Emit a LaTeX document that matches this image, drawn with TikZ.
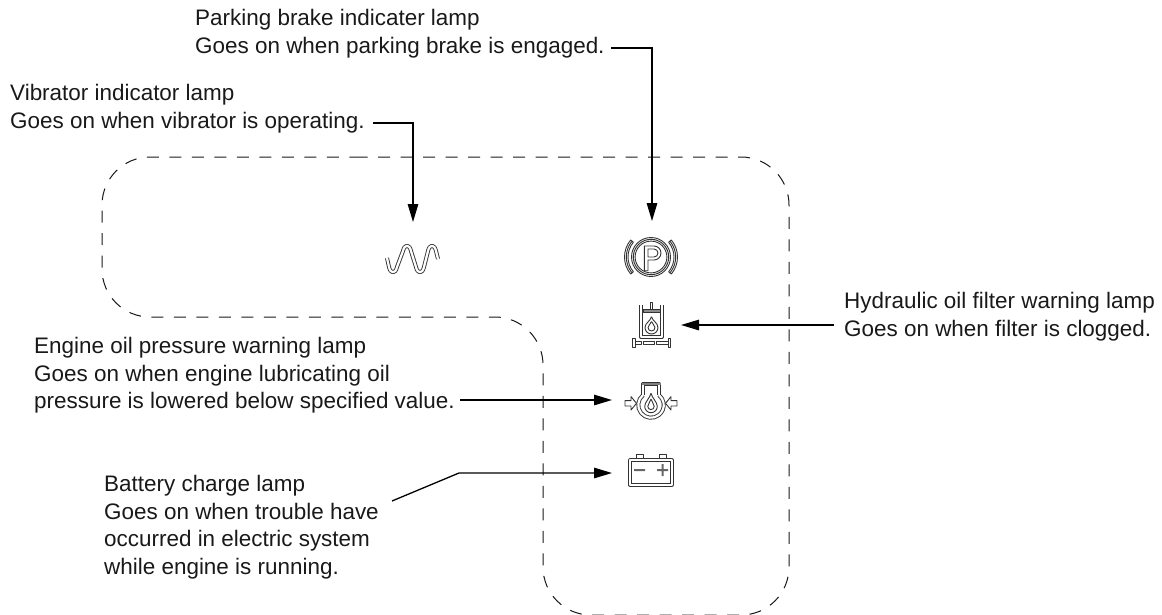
\documentclass[tikz,border=0pt]{standalone}
\usepackage{fontspec}
\setmainfont{Liberation Sans}
\usetikzlibrary{arrows.meta}
\tikzset{
  lab/.style={inner sep=0pt,align=left,font=\fontsize{22.45}{27.6}\selectfont,text=black!90},
  lead/.style={line width=1.3pt,draw=black,-{Triangle[length=18pt,width=10.5pt]}},
  zone/.style={line width=1pt,draw=black!90,dash pattern=on 12pt off 10.5pt,rounded corners=48pt},
  iconline/.style={line width=.9pt,draw=black!80,double=white,double distance=2.2pt,line join=round},
  thinl/.style={line width=.9pt,draw=black!80,line join=round},
  icon/.style={inner sep=0pt,minimum size=1pt},
  up/.style={x=1pt,y=1pt}
}
\begin{document}
\begin{tikzpicture}[x=1pt,y=-1pt]
\useasboundingbox (0,0) rectangle (1162,614);
\begin{scope}
\clip (0,0) rectangle (1162,614);
\draw[zone] (307.7,157) -- (789,157) -- (789,615) -- (543,615) -- (543,317) -- (102,317) -- (102,157) -- cycle;
\end{scope}
\node[lab,anchor=north west] (tbrake) at (195,9) {Parking brake indicater lamp\\Goes on when parking brake is engaged.};
\node[lab,anchor=north west] (tvib) at (10,84) {Vibrator indicator lamp\\Goes on when vibrator is operating.};
\node[lab,anchor=north west] (tfilter) at (844,292) {Hydraulic oil filter warning lamp\\Goes on when filter is clogged.};
\node[lab,anchor=north west] (toil) at (34,337) {Engine oil pressure warning lamp\\Goes on when engine lubricating oil\\pressure is lowered below specified value.};
\node[lab,anchor=north west] (tbat) at (104,475) {Battery charge lamp\\Goes on when trouble have\\occurred in electric system\\while engine is running.};
\node[icon] (ibrake) at (651,257) {};
\node[icon] (ivib) at (413,259) {};
\node[icon] (ifilter) at (651.5,329) {};
\node[icon] (ioil) at (651,405) {};
\node[icon] (ibat) at (651,472) {};
\coordinate (kbrake) at (652,48);
\coordinate (kvib) at (413,123);
\coordinate (bend) at (459,473);
\coordinate (sbat) at (392,501);
\coordinate (sbrake) at (611,48);
\coordinate (svib) at (373,123);
\coordinate (sfilter) at (834,325);
\coordinate (soil) at (460,400);
\coordinate (ebrake) at (652,221);
\coordinate (evib) at (413,222);
\coordinate (efilter) at (681,325);
\coordinate (eoil) at (612,400);
\coordinate (ebat) at (612,473);
\draw[lead] (sbrake) -- (kbrake) -- (ebrake);
\draw[lead] (svib) -- (kvib) -- (evib);
\draw[lead] (sfilter) -- (efilter);
\draw[lead] (soil) -- (eoil);
\draw[lead] (sbat) -- (bend) -- (ebat);
% parking brake
\begin{scope}[shift={(ibrake)},up]
\draw[thinl] (0,0) circle[radius=19.5] circle[radius=17.7] circle[radius=15.9];
\draw[thinl] (-6.7,-13.7) -- (-6.7,11) -- (3,11) arc[start angle=90,end angle=-90,radius=7] -- (-3,-3) -- (-3,-13.7) -- cycle;
\draw[thinl] (-3,8) -- (3,8) arc[start angle=90,end angle=-90,radius=4] -- (-3,0) -- cycle;
\draw[thinl] (140:26.5) arc[start angle=140,end angle=220,radius=26.5] -- (220:23) arc[start angle=220,end angle=140,radius=23] -- cycle;
\draw[thinl] (140:24.7) arc[start angle=140,end angle=220,radius=24.7];
\draw[thinl] (40:26.5) arc[start angle=40,end angle=-40,radius=26.5] -- (-40:23) arc[start angle=-40,end angle=40,radius=23] -- cycle;
\draw[thinl] (40:24.7) arc[start angle=40,end angle=-40,radius=24.7];
\end{scope}
% vibrator
\begin{scope}[shift={(ivib)},up]
\draw[iconline] (-26,1) -- (-24,-8) .. controls (-22.5,-15) and (-17.5,-15) .. (-16,-8) -- (-10,8) .. controls (-8.5,15) and (-3.5,15) .. (-2,8) -- (3,-8) .. controls (4.5,-15) and (9.5,-15) .. (11,-8) -- (15,8) .. controls (16.5,15) and (21.5,15) .. (23,8) -- (25,0);
\end{scope}
% filter
\begin{scope}[shift={(ifilter)},up]
\draw[iconline] (-10.5,24) -- (-10.5,-8) -- (10.5,-8) -- (10.5,24);
\draw[thinl,fill=black!45] (-8.5,16.3) rectangle (8.5,19.5);
\draw[thinl] (-1.5,19.5) -- (-1.5,26.5) -- (1,26.5) -- (1,19.5);
\draw[thinl] (0,12.3) .. controls (-1,8) and (-6.5,6) .. (-6.5,1.5) arc[start angle=180,end angle=360,radius=6.5] .. controls (6.5,6) and (1,8) .. (0,12.3);
\draw[thinl] (0,7.5) .. controls (-.5,5) and (-3.5,4) .. (-3.5,1.5) arc[start angle=180,end angle=360,radius=3.5] .. controls (3.5,4) and (.5,5) .. (0,7.5);
\draw[thinl] (-19,-9.5) rectangle (-16.5,-18.5) (16.5,-9.5) rectangle (19,-18.5);
\draw[thinl] (-16.5,-12.7) -- (-10.5,-12.7) -- (-10.5,-15.3) -- (-16.5,-15.3);
\draw[thinl] (-8.5,-12.7) rectangle (3,-15.3);
\draw[thinl] (16.5,-12.7) -- (5,-12.7) -- (5,-15.3) -- (16.5,-15.3);
\end{scope}
% oil
\begin{scope}[shift={(ioil)},up]
\draw[iconline] (129:12.75) arc[start angle=129,end angle=411,radius=12.75];
\draw[iconline] (-8,9.9) -- (-8,21) -- (8,21) -- (8,9.9);
\fill[black!50] (-9.5,20) rectangle (9.5,22.3);
\draw[thinl] (0,11.7) .. controls (-1,7) and (-6.3,3) .. (-6.3,-1.4) arc[start angle=180,end angle=360,radius=6.3] .. controls (6.3,3) and (1,7) .. (0,11.7);
\draw[thinl] (0,6) .. controls (-.5,3.5) and (-3.2,1) .. (-3.2,-1.4) arc[start angle=180,end angle=360,radius=3.2] .. controls (3.2,1) and (.5,3.5) .. (0,6);
\draw[thinl,fill=white] (-26,4.4) -- (-20,4.4) -- (-20,8.4) -- (-14.5,1.7) -- (-20,-5) -- (-20,-1) -- (-26,-1) -- cycle;
\draw[thinl,fill=white] (26,4.4) -- (20,4.4) -- (20,8.4) -- (14.5,1.7) -- (20,-5) -- (20,-1) -- (26,-1) -- cycle;
\end{scope}
% battery
\begin{scope}[shift={(ibat)},up]
\draw[iconline] (-20.8,11.7) rectangle (20.8,-12.8);
\draw[thinl] (-15,13) -- (-15,18) -- (-8,18) -- (-8,13) (8,13) -- (8,18) -- (15,18) -- (15,13);
\fill[black!60] (-17,1) rectangle (-6,3) (6,1) rectangle (17,3) (10.5,-4) rectangle (12.5,8);
\end{scope}
\end{tikzpicture}
\end{document}
